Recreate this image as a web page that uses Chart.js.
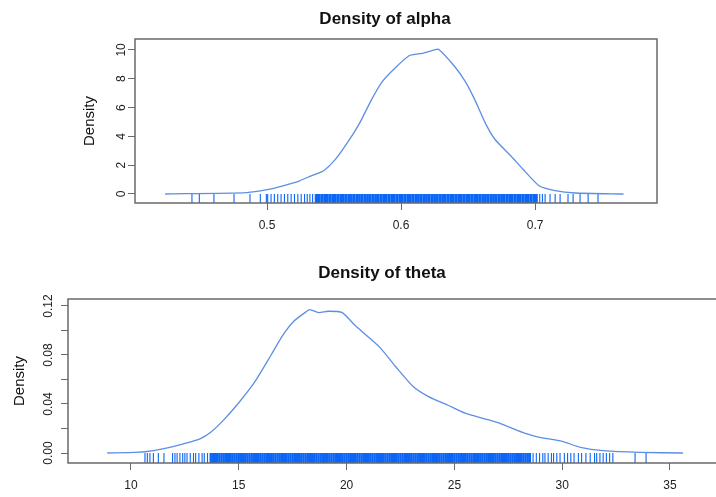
<!DOCTYPE html>
<html><head><meta charset="utf-8">
<script src="https://cdn.jsdelivr.net/npm/chart.js@4.4.0/dist/chart.umd.min.js"></script>
<style>
html,body{margin:0;padding:0;background:#fff;overflow:hidden;width:716px;height:497px;position:relative;}
#c1{position:absolute;left:60px;top:0;}
#c2{position:absolute;left:0;top:250px;}
</style></head><body>
<canvas id="c1" width="656" height="243"></canvas>
<canvas id="c2" width="766" height="253"></canvas>
<script>
// ---- Density of alpha ----
const alphaX = [0.424,0.485,0.5,0.512,0.524,0.533,0.542,0.551,0.56,0.569,0.578,0.586,0.595,0.606,0.616,0.625,0.628,0.64,0.648,0.655,0.663,0.67,0.682,0.691,0.703,0.715,0.73,0.766];
const alphaY = [0,0.1,0.3,0.57,0.9,1.26,1.6,2.4,3.56,4.9,6.55,7.8,8.7,9.6,9.77,10.0,10.05,8.85,7.8,6.55,4.9,3.8,2.64,1.72,0.57,0.23,0.07,0];
const alphaRugSparse = [0.444,0.4495,0.4604,0.4754,0.4873,0.495,0.4995,
  0.5005,0.503,0.5055,0.508,0.5105,0.513,0.5155,0.518,0.5205,0.523,0.5255,0.528,0.530,0.532,0.534,0.536,
  0.7035,0.7055,0.7075,0.7112,0.715,0.7187,0.7246,0.7284,0.7336,0.7396,0.747];
const alphaRugDense = [0.537,0.539,0.541,0.543,0.545,0.547,0.549,0.551,0.553,0.555,
  0.557,0.559,0.561,0.563,0.565,0.567,0.569,0.571,0.573,0.575,
  0.577,0.579,0.581,0.583,0.585,0.587,0.589,0.591,0.593,0.595,
  0.597,0.599,0.601,0.603,0.605,0.607,0.609,0.611,0.613,0.615,
  0.617,0.619,0.621,0.623,0.625,0.627,0.629,0.631,0.633,0.635,
  0.637,0.639,0.641,0.643,0.645,0.647,0.649,0.651,0.653,0.655,
  0.657,0.659,0.661,0.663,0.665,0.667,0.669,0.671,0.673,0.675,
  0.677,0.679,0.681,0.683,0.685,0.687,0.689,0.691,0.693,0.695,
  0.697,0.699,0.701];
const alphaXTicks = [0.5,0.6,0.7];
const alphaXTickLabels = ['0.5','0.6','0.7'];
const alphaYTicks = [0,2,4,6,8,10];
const alphaYTickLabels = ['0','2','4','6','8','10'];

// ---- Density of theta ----
const thetaX = [8.9,10.2,11.06,11.9,12.55,13.2,13.7,14.25,15.0,15.74,16.5,17.0,17.55,18.1,18.3,18.7,19.15,19.8,20.4,21.5,22.3,23.1,23.8,24.7,25.5,26.6,27.2,28.3,28.9,30.0,30.85,31.9,33.6,35.6];
const thetaY = [0,0.0005,0.002,0.005,0.008,0.0116,0.017,0.026,0.041,0.058,0.08,0.095,0.1075,0.115,0.117,0.1146,0.1157,0.1146,0.104,0.087,0.07,0.054,0.046,0.039,0.0325,0.027,0.0236,0.016,0.013,0.0095,0.0046,0.0019,0.0005,0];
const thetaRugSparse = [10.65,10.76,10.88,11.04,11.27,11.53,11.93,12.04,12.14,12.27,12.4,12.5,12.6,12.75,12.9,13.0,13.15,13.3,13.4,13.55,
  28.65,28.8,28.95,29.1,29.2,29.35,29.5,29.6,29.75,29.9,30.1,30.25,30.4,30.55,30.75,30.9,31.1,31.3,31.5,31.6,31.75,31.9,32.05,32.2,32.35,33.38,33.89];
const thetaRugDense = [13.7,13.8,13.9,
  14.0,14.1,14.2,14.3,14.4,14.5,14.6,14.7,14.8,14.9,
  15.0,15.1,15.2,15.3,15.4,15.5,15.6,15.7,15.8,15.9,
  16.0,16.1,16.2,16.3,16.4,16.5,16.6,16.7,16.8,16.9,
  17.0,17.1,17.2,17.3,17.4,17.5,17.6,17.7,17.8,17.9,
  18.0,18.1,18.2,18.3,18.4,18.5,18.6,18.7,18.8,18.9,
  19.0,19.1,19.2,19.3,19.4,19.5,19.6,19.7,19.8,19.9,
  20.0,20.1,20.2,20.3,20.4,20.5,20.6,20.7,20.8,20.9,
  21.0,21.1,21.2,21.3,21.4,21.5,21.6,21.7,21.8,21.9,
  22.0,22.1,22.2,22.3,22.4,22.5,22.6,22.7,22.8,22.9,
  23.0,23.1,23.2,23.3,23.4,23.5,23.6,23.7,23.8,23.9,
  24.0,24.1,24.2,24.3,24.4,24.5,24.6,24.7,24.8,24.9,
  25.0,25.1,25.2,25.3,25.4,25.5,25.6,25.7,25.8,25.9,
  26.0,26.1,26.2,26.3,26.4,26.5,26.6,26.7,26.8,26.9,
  27.0,27.1,27.2,27.3,27.4,27.5,27.6,27.7,27.8,27.9,
  28.0,28.1,28.2,28.3,28.4,28.5];
const thetaXTicks = [10,15,20,25,30,35];
const thetaXTickLabels = ['10','15','20','25','30','35'];
const thetaYTicks = [0,0.02,0.04,0.06,0.08,0.10,0.12];
const thetaYTickLabels = ['0.00','','0.04','','0.08','','0.12'];

const FONT = "'Liberation Sans', Arial, Helvetica, sans-serif";
const LINE_COLOR = '#5c8fe3';
const RUG_COLOR = '#0b66f7';
const AXIS_COLOR = '#6a6a6a';

const boxPlugin = {
  id: 'box',
  afterDraw(chart) {
    const {ctx, chartArea: a} = chart;
    ctx.save();
    ctx.strokeStyle = AXIS_COLOR;
    ctx.lineWidth = 1.5;
    ctx.strokeRect(a.left, a.top, a.right - a.left, a.bottom - a.top);
    ctx.restore();
  }
};

function rugRadius(ctx) {
  const s = ctx.chart.scales.y;
  return (s.getPixelForValue(s.min) - s.getPixelForValue(0)) / 2;
}

function build(id, o) {
  const rugY = o.yMin / 2;
  return new Chart(document.getElementById(id), {
    type: 'scatter',
    data: {
      datasets: [
        { data: o.curveX.map((x, i) => ({x, y: o.curveY[i]})), showLine: true, borderColor: LINE_COLOR,
          borderWidth: 1.3, pointRadius: 0, tension: 0.2, fill: false },
        { data: o.rugDense.map(x => ({x, y: rugY})), pointStyle: 'line', rotation: 90,
          pointRadius: rugRadius, pointBorderWidth: o.denseWidth, pointBorderColor: RUG_COLOR, pointBackgroundColor: RUG_COLOR },
        { data: o.rugSparse.map(x => ({x, y: rugY})), pointStyle: 'line', rotation: 90,
          pointRadius: rugRadius, pointBorderWidth: 1.1, pointBorderColor: RUG_COLOR, pointBackgroundColor: RUG_COLOR }
      ]
    },
    options: {
      responsive: false, animation: false, devicePixelRatio: 1,
      layout: { padding: o.pad },
      plugins: {
        legend: { display: false }, tooltip: { enabled: false },
        title: { display: true, text: o.title, color: '#111',
          font: { family: FONT, size: 17, weight: 'bold' }, padding: o.titlePad }
      },
      scales: {
        x: { type: 'linear', min: o.xMin, max: o.xMax,
          afterBuildTicks: s => { s.ticks = o.xTicks.map(v => ({value: v})); },
          afterFit: s => { s.height = 30; },
          ticks: { callback: (v, i) => o.xTickLabels[i], maxRotation: 0, autoSkip: false, padding: 8,
            color: '#222', font: { family: FONT, size: 12 } },
          grid: { display: true, drawOnChartArea: false, drawTicks: true, tickLength: 7, color: AXIS_COLOR, lineWidth: 1 },
          border: { display: false } },
        y: { type: 'linear', min: o.yMin, max: o.yMax,
          afterBuildTicks: s => { s.ticks = o.yTicks.map(v => ({value: v})); },
          afterFit: s => { s.width = o.yWidth; },
          ticks: { callback: (v, i) => o.yTickLabels[i], minRotation: 90, maxRotation: 90, autoSkip: false,
            crossAlign: 'center', padding: o.yPad, color: '#222', font: { family: FONT, size: 12 } },
          grid: { display: true, drawOnChartArea: false, drawTicks: true, tickLength: 7, color: AXIS_COLOR, lineWidth: 1 },
          border: { display: false },
          title: { display: true, text: 'Density', color: '#111', font: { family: FONT, size: 15 },
            padding: { top: o.yTitlePad, bottom: 0 } } }
      }
    },
    plugins: [boxPlugin]
  });
}

build('c1', {
  title: 'Density of alpha', curveX: alphaX, curveY: alphaY,
  rugDense: alphaRugDense, rugSparse: alphaRugSparse, denseWidth: 2.8,
  xMin: 0.4015, xMax: 0.791, yMin: -0.625, yMax: 10.76,
  xTicks: alphaXTicks, xTickLabels: alphaXTickLabels, yTicks: alphaYTicks, yTickLabels: alphaYTickLabels,
  pad: { left: 53, right: 59, top: 0, bottom: 10 }, titlePad: { top: 8.8, bottom: 9.8 },
  yWidth: 22, yPad: 0, yTitlePad: -32
});

build('c2', {
  title: 'Density of theta', curveX: thetaX, curveY: thetaY,
  rugDense: thetaRugDense, rugSparse: thetaRugSparse, denseWidth: 2.4,
  xMin: 7.08, xMax: 37.69, yMin: -0.00816, yMax: 0.1257,
  xTicks: thetaXTicks, xTickLabels: thetaXTickLabels, yTicks: thetaYTicks, yTickLabels: thetaYTickLabels,
  pad: { left: 36, right: 38, top: 0, bottom: 10 }, titlePad: { top: 13.3, bottom: 15.3 },
  yWidth: 32, yPad: 1, yTitlePad: -25
});
</script>
</body></html>
